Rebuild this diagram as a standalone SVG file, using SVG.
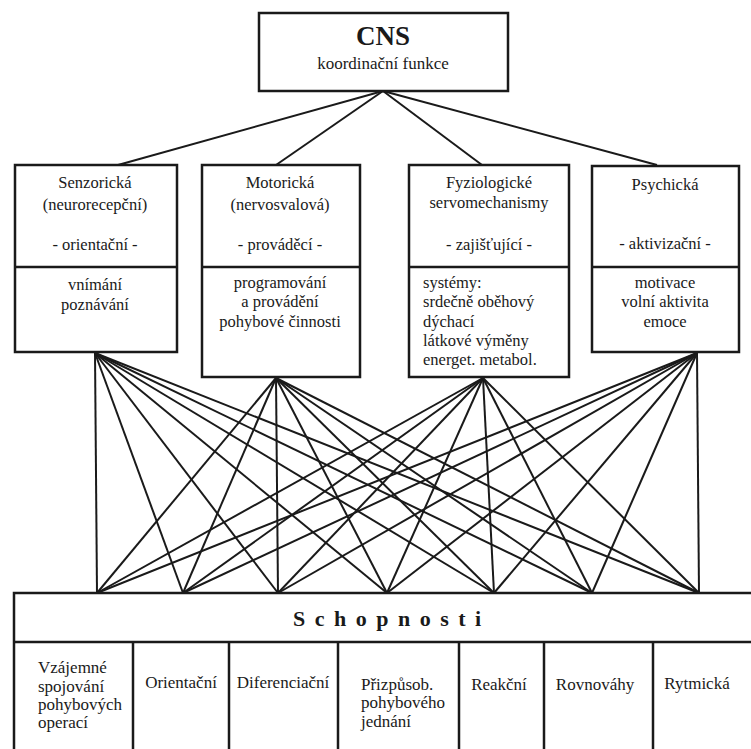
<svg xmlns="http://www.w3.org/2000/svg" width="751" height="749" viewBox="0 0 751 749">
<style>
.box{fill:#fff;stroke:#1a1a1a;stroke-width:2.5}
.ln{stroke:#1a1a1a;stroke-width:2;fill:none}
text{font-family:"Liberation Serif","Times New Roman",serif;fill:#1a1a1a;font-size:16.5px}
.c{text-anchor:middle}
.b{font-size:17px}
</style>
<rect width="751" height="749" fill="#fff"/>
<g id="connectors" class="ln">
<line x1="383" y1="91" x2="118" y2="165"/>
<line x1="383" y1="91" x2="276" y2="165"/>
<line x1="383" y1="91" x2="482" y2="165"/>
<line x1="383" y1="91" x2="657" y2="165"/>
<g id="fan-senz">
<line x1="95" y1="353" x2="97" y2="593"/><line x1="95" y1="353" x2="183" y2="593"/><line x1="95" y1="353" x2="278" y2="593"/><line x1="95" y1="353" x2="387" y2="593"/><line x1="95" y1="353" x2="494" y2="593"/><line x1="95" y1="353" x2="592" y2="593"/><line x1="95" y1="353" x2="699" y2="593"/>
</g>
<g id="fan-motor">
<line x1="276" y1="378" x2="97" y2="593"/><line x1="276" y1="378" x2="183" y2="593"/><line x1="276" y1="378" x2="278" y2="593"/><line x1="276" y1="378" x2="387" y2="593"/><line x1="276" y1="378" x2="494" y2="593"/><line x1="276" y1="378" x2="592" y2="593"/><line x1="276" y1="378" x2="699" y2="593"/>
</g>
<g id="fan-fyz">
<line x1="483" y1="378" x2="97" y2="593"/><line x1="483" y1="378" x2="183" y2="593"/><line x1="483" y1="378" x2="278" y2="593"/><line x1="483" y1="378" x2="387" y2="593"/><line x1="483" y1="378" x2="494" y2="593"/><line x1="483" y1="378" x2="592" y2="593"/><line x1="483" y1="378" x2="699" y2="593"/>
</g>
<g id="fan-psych">
<line x1="697" y1="353" x2="97" y2="593"/><line x1="697" y1="353" x2="183" y2="593"/><line x1="697" y1="353" x2="278" y2="593"/><line x1="697" y1="353" x2="387" y2="593"/><line x1="697" y1="353" x2="494" y2="593"/><line x1="697" y1="353" x2="592" y2="593"/><line x1="697" y1="353" x2="699" y2="593"/>
</g>
</g>
<g id="cns">
<rect class="box" x="259" y="13" width="249" height="78"/>
<text class="c" x="383" y="45" style="font-size:27px;font-weight:bold">CNS</text>
<text class="c b" x="383" y="69">koordinační funkce</text>
</g>
<g id="senzoricka">
<rect class="box" x="15" y="165" width="162" height="187"/>
<line class="ln" x1="15" y1="267" x2="177" y2="267" style="stroke-width:2.5"/>
<text class="c" x="95" y="188">Senzorická</text>
<text class="c" x="95" y="210">(neurorecepční)</text>
<text class="c" x="95" y="250">- orientační -</text>
<text class="c" x="95" y="290">vnímání</text>
<text class="c" x="95" y="310">poznávání</text>
</g>
<g id="motoricka">
<rect class="box" x="202" y="165" width="158" height="212"/>
<line class="ln" x1="202" y1="267" x2="360" y2="267" style="stroke-width:2.5"/>
<text class="c" x="280" y="188">Motorická</text>
<text class="c" x="280" y="210">(nervosvalová)</text>
<text class="c" x="280" y="250">- prováděcí -</text>
<text class="c" x="280" y="288">programování</text>
<text class="c" x="280" y="307">a provádění</text>
<text class="c" x="280" y="327">pohybové činnosti</text>
</g>
<g id="fyziologicke">
<rect class="box" x="409" y="165" width="160" height="212"/>
<line class="ln" x1="409" y1="267" x2="569" y2="267" style="stroke-width:2.5"/>
<text class="c" x="489" y="188">Fyziologické</text>
<text class="c" x="489" y="208">servomechanismy</text>
<text class="c" x="489" y="250">- zajišťující -</text>
<text x="423" y="288">systémy:</text>
<text x="423" y="307">srdečně oběhový</text>
<text x="423" y="327">dýchací</text>
<text x="423" y="346">látkové výměny</text>
<text x="423" y="365">energet. metabol.</text>
</g>
<g id="psychicka">
<rect class="box" x="592" y="166" width="147" height="186"/>
<line class="ln" x1="592" y1="267" x2="739" y2="267" style="stroke-width:2.5"/>
<text class="c" x="665" y="190">Psychická</text>
<text class="c" x="665" y="249">- aktivizační -</text>
<text class="c" x="665" y="288">motivace</text>
<text class="c" x="665" y="307">volní aktivita</text>
<text class="c" x="665" y="327">emoce</text>
</g>
<g id="schopnosti">
<rect class="box" x="14" y="593" width="760" height="180"/>
<line class="ln" x1="14" y1="642" x2="760" y2="642" style="stroke-width:2.5"/>
<text x="293" y="626" style="font-size:22px;font-weight:bold;letter-spacing:9.5px">Schopnosti</text>
<g class="ln" style="stroke-width:2.5">
<line x1="133" y1="642" x2="133" y2="749"/>
<line x1="229" y1="642" x2="229" y2="749"/>
<line x1="338" y1="642" x2="338" y2="749"/>
<line x1="459" y1="642" x2="459" y2="749"/>
<line x1="544" y1="642" x2="544" y2="749"/>
<line x1="653" y1="642" x2="653" y2="749"/>
</g>
<text class="b" x="38" y="673">Vzájemné</text>
<text class="b" x="38" y="692">spojování</text>
<text class="b" x="38" y="710">pohybových</text>
<text class="b" x="38" y="728">operací</text>
<text class="c b" x="181" y="688">Orientační</text>
<text class="c b" x="283" y="688">Diferenciační</text>
<text class="b" x="361" y="690">Přizpůsob.</text>
<text class="b" x="361" y="708">pohybového</text>
<text class="b" x="361" y="727">jednání</text>
<text class="c b" x="499" y="690">Reakční</text>
<text class="c b" x="595" y="690">Rovnováhy</text>
<text class="c b" x="697" y="689">Rytmická</text>
</g>
</svg>
